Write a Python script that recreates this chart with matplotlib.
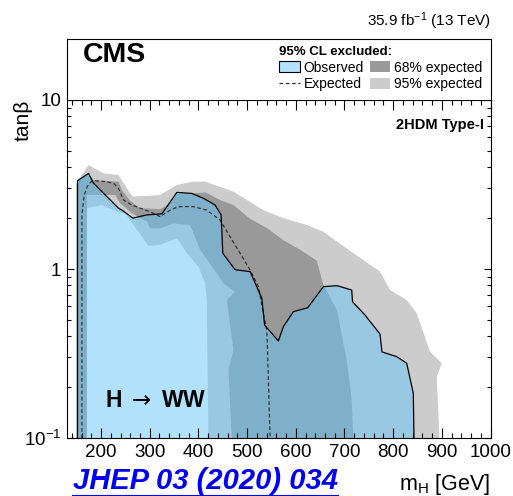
import matplotlib
matplotlib.use('Agg')
import matplotlib.pyplot as plt
from matplotlib.patches import Patch
from matplotlib.lines import Line2D
from matplotlib.ticker import MultipleLocator, NullFormatter

plt.rcParams['font.family'] = ['Liberation Sans', 'DejaVu Sans']
plt.rcParams['mathtext.fontset'] = 'custom'
plt.rcParams['mathtext.rm'] = 'Liberation Sans'
plt.rcParams['mathtext.it'] = 'Liberation Sans:italic'
plt.rcParams['mathtext.bf'] = 'Liberation Sans:bold'
plt.rcParams['mathtext.sf'] = 'DejaVu Sans'

# 95% CL exclusion contours in the (m_H [GeV], tan beta) plane
obs_m = [151.6, 151.6, 174.2, 184.4, 235.8, 242.7, 265.3, 294.1, 324.9, 355.7, 386.5, 410.3,
         434.3, 446.6, 450.1, 475.3, 506.1, 530.2, 535.9, 564.2, 574.5, 595.0, 624.6, 656.6,
         684.8, 714.9, 716.6, 742.2, 773.0, 777.1, 807.3, 827.8, 841.4, 842.8]
obs_tb = [0.1, 3.33, 3.68, 3.22, 2.29, 2.23, 2.00, 2.09, 2.12, 2.84, 2.80, 2.62,
          2.39, 2.09, 1.24, 0.99, 0.965, 0.671, 0.466, 0.375, 0.456, 0.559, 0.590, 0.786,
          0.797, 0.751, 0.640, 0.534, 0.412, 0.323, 0.303, 0.277, 0.184, 0.1]

exp_m = [160.6, 160.6, 165.4, 171.5, 179.7, 187.9, 208.4, 225.5, 235.8, 246.0, 263.3, 300.8,
         321.4, 341.9, 358.9, 389.7, 417.2, 444.6, 465.1, 485.6, 506.1, 523.2, 533.4, 540.4,
         541.7, 547.2]
exp_tb = [0.1, 2.09, 2.74, 3.07, 3.29, 3.33, 3.29, 3.22, 3.00, 2.56, 2.39, 2.18,
          2.04, 2.23, 2.34, 2.34, 2.23, 1.95, 1.55, 1.24, 0.987, 0.786, 0.547, 0.436,
          0.347, 0.1]

# expected +2 sigma / +1 sigma / -1 sigma / -2 sigma contours
up2_m = [148.5, 148.5, 158.1, 174.2, 205.0, 235.8, 259.8, 266.0, 321.4, 355.7, 389.1, 413.8,
         471.9, 533.4, 574.5, 622.6, 656.6, 718.2, 773.0, 793.6, 827.8, 848.4, 875.7, 899.7,
         889.5, 892.8, 894.8]
up2_tb = [0.1, 3.14, 3.52, 4.12, 3.68, 3.60, 2.80, 2.68, 2.74, 3.14, 3.29, 3.29,
          2.87, 2.23, 2.00, 1.82, 1.66, 1.24, 0.965, 0.751, 0.655, 0.547, 0.324, 0.277,
          0.230, 0.146, 0.1]

up1_m = [150.6, 150.6, 174.2, 184.4, 205.0, 235.8, 242.7, 259.8, 280.3, 321.4, 341.9, 355.7,
         389.1, 413.8, 444.6, 471.9, 506.1, 540.4, 574.5, 608.8, 643.1, 656.0, 684.4, 704.6,
         714.9, 718.2]
up1_tb = [0.1, 3.27, 3.68, 3.36, 3.32, 3.29, 2.93, 2.53, 2.29, 2.26, 2.43, 2.78,
          2.80, 2.84, 2.56, 2.39, 1.98, 1.75, 1.48, 1.30, 1.12, 0.815, 0.572, 0.289,
          0.168, 0.1]

dn1_m = [171.0, 171.0, 229.0, 239.2, 263.3, 294.1, 300.8, 321.4, 348.7, 383.0, 403.5, 437.8,
         451.3, 475.3, 458.3, 471.9, 461.6, 468.6]
dn1_tb = [0.1, 2.74, 2.74, 2.45, 2.14, 1.91, 1.74, 1.74, 1.86, 1.82, 1.30, 0.943,
          0.823, 0.734, 0.655, 0.332, 0.253, 0.1]

dn2_m = [171.0, 171.0, 201.7, 232.5, 249.5, 297.3, 321.4, 355.7, 376.2, 400.0, 413.8, 417.2,
         418.0, 420.5]
dn2_tb = [0.1, 2.29, 2.39, 2.18, 2.14, 1.37, 1.39, 1.52, 1.24, 1.03, 0.823, 0.655,
          0.38, 0.1]

x_ticks = [200, 300, 400, 500, 600, 700, 800, 900, 1000]
y_ticks = [0.1, 1, 10]
y_labels = ['10$^{-1}$', '1', '10']

obs_color = '#67c7f9'
band68 = '#999999'
band95 = '#cccccc'

W, H = 513, 496
fig = plt.figure(figsize=(W / 100, H / 100), dpi=100)
ax = fig.add_axes([67 / W, 58 / H, 423.5 / W, 338 / H])
header = fig.add_axes([67 / W, 396 / H, 423.5 / W, 61 / H])

# expected bands: fill the outer contour, then cut the inner ones out again
ax.fill(up2_m, up2_tb, color=band95, lw=0)
ax.fill(up1_m, up1_tb, color=band68, lw=0)
ax.fill(dn1_m, dn1_tb, color=band95, lw=0)
ax.fill(dn2_m, dn2_tb, color='white', lw=0)
ax.fill(obs_m, obs_tb, color=obs_color, alpha=0.5, lw=0)
ax.plot(exp_m, exp_tb, color='#333333', lw=0.9, ls=(0, (3, 2)))
ax.plot(obs_m, obs_tb, color='black', lw=0.9)

ax.set_xlim(130, 1000)
ax.set_yscale('log')
ax.set_ylim(0.1, 10)
ax.set_xticks(x_ticks)
ax.xaxis.set_minor_locator(MultipleLocator(20))
ax.set_yticks(y_ticks, labels=y_labels)
ax.yaxis.set_minor_formatter(NullFormatter())
ax.tick_params(which='both', direction='in', top=True, right=True, labelsize=13.5, width=0.8)
ax.tick_params(axis='x', which='major', length=7.2, pad=4)
ax.tick_params(axis='x', which='minor', length=3.6)
ax.tick_params(axis='y', which='major', length=5, pad=4)
ax.tick_params(axis='y', which='minor', length=3)
for sp in ax.spines.values():
    sp.set_linewidth(0.8)

ax.set_xlabel('m$_{\\mathrm{H}}$ [GeV]', loc='right', fontsize=15.5, labelpad=8)
ax.set_ylabel('tan\u03b2', loc='top', fontsize=15)
ax.yaxis.set_label_coords(-0.08, 1.0)

ax.text(0.985, 0.947, '2HDM Type-I', transform=ax.transAxes, ha='right', va='top',
        fontsize=10.5, weight='bold')
ax.text(0.0897, 0.092, 'H $\\mathsf{\\rightarrow}$ WW', transform=ax.transAxes, ha='left',
        va='baseline', fontsize=16.5, weight='bold')

# header box with experiment name and legend
header.set_xticks([])
header.set_yticks([])
header.spines['bottom'].set_visible(False)
for sp in header.spines.values():
    sp.set_linewidth(0.8)
header.text(0.038, 0.623, 'CMS', transform=header.transAxes, fontsize=20.5, weight='bold',
            va='baseline')

handles = [Patch(facecolor='#b3e3fc', edgecolor='black', lw=0.8),
           Line2D([], [], color='#333333', lw=0.9, ls=(0, (3, 2))),
           Patch(facecolor=band68, lw=0),
           Patch(facecolor=band95, lw=0)]
labels = ['Observed', 'Expected', '68% expected', '95% expected']
header.legend(handles, labels, ncol=2, loc='upper left', bbox_to_anchor=(0.495, 0.935),
              frameon=False, title='95% CL excluded:',
              title_fontproperties={'weight': 'bold', 'size': 9.5}, alignment='left',
              fontsize=10, handlelength=1.5, handleheight=0.85, handletextpad=0.25,
              columnspacing=0.4, labelspacing=0.2, borderpad=0.2, borderaxespad=0)

fig.text(490.5 / W, 1 - 26 / H, '35.9 fb$^{-1}$ (13 TeV)', ha='right', va='baseline',
         fontsize=11)

ref = fig.text(73 / W, 1 - 489 / H, 'JHEP 03 (2020) 034', color='#0000ee', fontsize=21,
               weight='bold', style='italic', va='baseline')
fig.canvas.draw()
bb = ref.get_window_extent()
inv = fig.transFigure.inverted()
(x0, y0), (x1, _) = inv.transform([(bb.x0, bb.y0 - 1), (bb.x1, bb.y0)])
fig.add_artist(Line2D([x0, x1], [y0, y0], color='#0000ee', lw=1.5, transform=fig.transFigure))

fig.savefig('out.png', dpi=100)
